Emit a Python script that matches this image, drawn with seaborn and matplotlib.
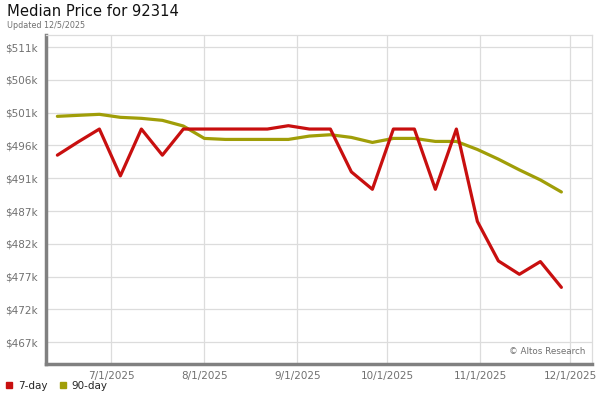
import matplotlib
matplotlib.use("Agg")
import matplotlib.pyplot as plt
from matplotlib.lines import Line2D
import seaborn as sns
import pandas as pd

# ---- data ----
dates = ["2025-06-13", "2025-06-20", "2025-06-27", "2025-07-04", "2025-07-11",
         "2025-07-18", "2025-07-25", "2025-08-01", "2025-08-08", "2025-08-15",
         "2025-08-22", "2025-08-29", "2025-09-05", "2025-09-12", "2025-09-19",
         "2025-09-26", "2025-10-03", "2025-10-10", "2025-10-17", "2025-10-24",
         "2025-10-31", "2025-11-07", "2025-11-14", "2025-11-21", "2025-11-28"]
price_7day = [494900, 496900, 498800, 491800, 498800,
              494900, 498800, 498800, 498800, 498800,
              498800, 499300, 498800, 498800, 492400,
              489800, 498800, 498800, 489800, 498800,
              485000, 479100, 477100, 479000, 475150]
price_90day = [500700, 500850, 501000, 500550, 500400,
               500100, 499250, 497400, 497250, 497250,
               497250, 497250, 497750, 497950, 497550,
               496800, 497400, 497400, 496950, 496950,
               495750, 494300, 492700, 491200, 489400]
series_names = ["7-day", "90-day"]
series_colors = {"7-day": "#c80f0f", "90-day": "#a09e08"}
ytick_values = [466950, 471850, 476750, 481650, 486550,
                491450, 496350, 501250, 506150, 511050]
ytick_labels = ["$467k", "$472k", "$477k", "$482k", "$487k",
                "$491k", "$496k", "$501k", "$506k", "$511k"]
xtick_dates = ["2025-07-01", "2025-08-01", "2025-09-01",
               "2025-10-01", "2025-11-01", "2025-12-01"]
xtick_labels = ["7/1/2025", "8/1/2025", "9/1/2025",
                "10/1/2025", "11/1/2025", "12/1/2025"]

df = pd.DataFrame({
    "date": pd.to_datetime(dates * 2),
    "price": price_7day + price_90day,
    "series": ["7-day"] * len(dates) + ["90-day"] * len(dates),
})

sns.set_theme(style="white")
plt.rcParams["font.family"] = ["DejaVu Sans"]

fig = plt.figure(figsize=(6, 4), dpi=100)
ax = fig.add_axes([46 / 600, 1 - 364 / 400, (592 - 46) / 600, (364 - 35) / 400])

sns.lineplot(data=df, x="date", y="price", hue="series",
             hue_order=["90-day", "7-day"], palette=series_colors,
             linewidth=2.3, legend=False, ax=ax, zorder=3)

ax.set_xlim(pd.Timestamp("2025-06-09 05:00"), pd.Timestamp("2025-12-08 05:00"))
ax.set_ylim(463700, 512850)

ax.set_yticks(ytick_values)
ax.set_yticklabels(ytick_labels)
ax.set_xticks(pd.to_datetime(xtick_dates))
ax.set_xticklabels(xtick_labels)
ax.tick_params(axis="both", length=0, labelsize=7.5, colors="#707070", pad=5)
ax.tick_params(axis="y", pad=6)
ax.set_xlabel("")
ax.set_ylabel("")

ax.grid(True, color="#dcdcdc", linewidth=0.9, zorder=0)
ax.set_axisbelow(True)

for side in ["top", "right"]:
    ax.spines[side].set_color("#dcdcdc")
    ax.spines[side].set_linewidth(0.9)
for side in ["left", "bottom"]:
    ax.spines[side].set_color("#808080")
    ax.spines[side].set_linewidth(2.5)

ax.text(0.988, 0.025, "\u00a9 Altos Research", transform=ax.transAxes,
        ha="right", va="bottom", fontsize=6.3, color="#707070")

fig.text(7 / 600, 1 - 12 / 400, "Median Price for 92314", ha="left",
         va="center", fontsize=10.6, color="#111111")
fig.text(7 / 600, 1 - 25 / 400, "Updated 12/5/2025", ha="left",
         va="center", fontsize=5.8, color="#707070")

handles = [Line2D([0], [0], marker="s", linestyle="none", markersize=5,
                  markerfacecolor=series_colors[n], markeredgecolor=series_colors[n])
           for n in series_names]
fig.legend(handles, series_names, loc="center left",
           bbox_to_anchor=(2 / 600, 1 - 386 / 400), ncol=2, frameon=False,
           fontsize=7.5, handletextpad=0.3, columnspacing=1.0,
           handlelength=1.0, borderaxespad=0, borderpad=0.2)

fig.savefig("out.png", dpi=100)
